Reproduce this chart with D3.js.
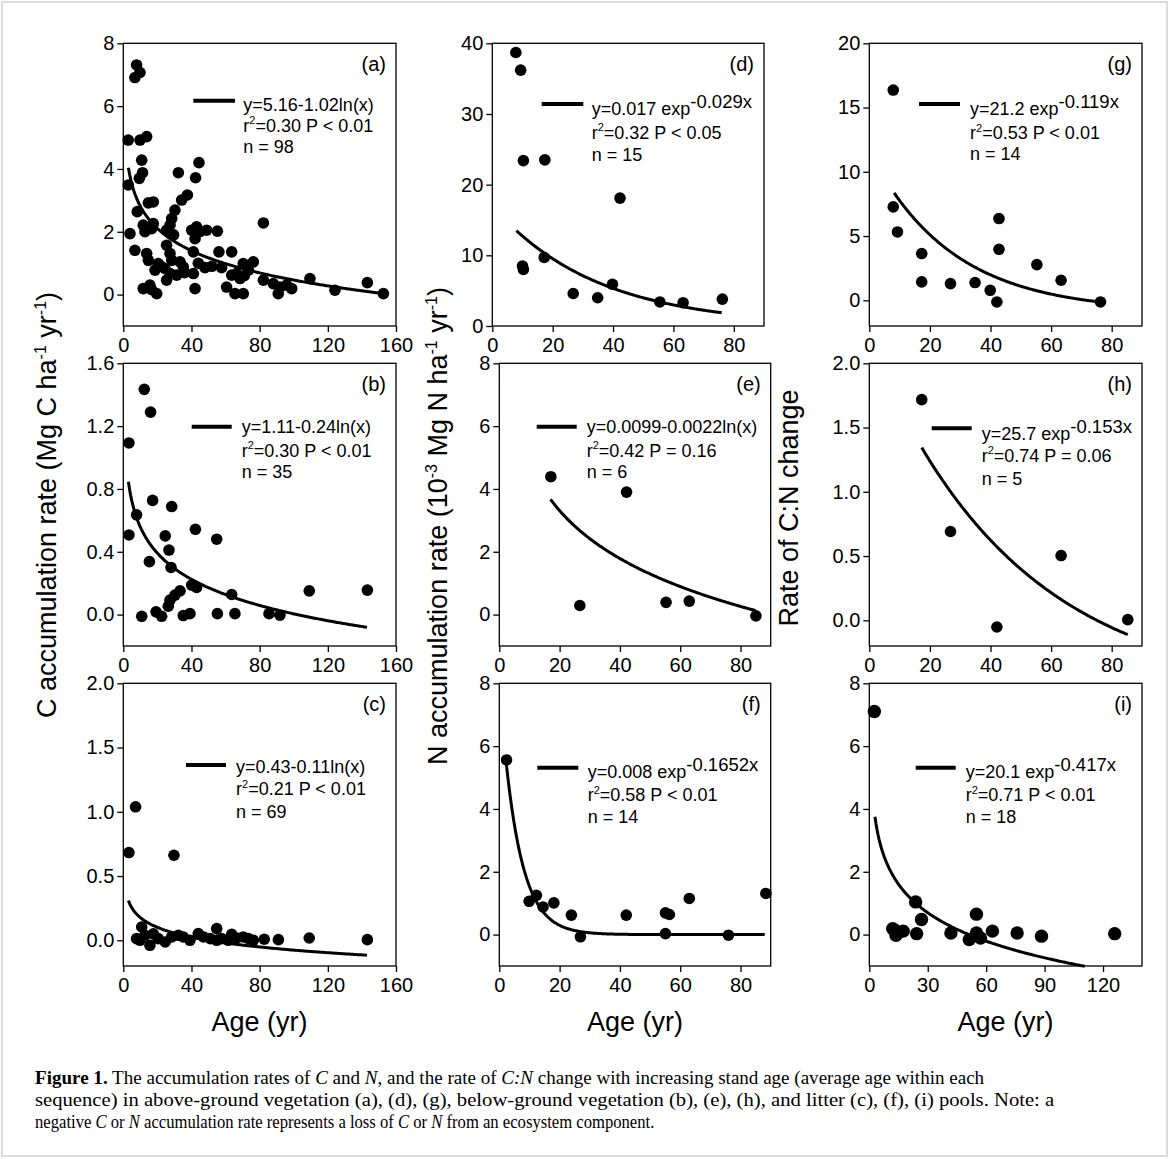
<!DOCTYPE html>
<html>
<head>
  <title>Accumulation rates vs stand age</title>
</head>
<style>
  body { margin: 0; background: #fff; }
  svg { font-family: "Liberation Sans", Arial, sans-serif; }
  .tick text { font-size: 20px; fill: #000; }
  .tick line { stroke: #000; stroke-width: 1.3; }
</style>
<body>
  <script src="https://d3js.org/d3.v7.min.js"></script>
  <script>
    // points: [age, rate]
    const ptsA = [[7.8,7.31],[9.8,7.07],[6.8,6.91],[2.9,4.92],[9.8,4.92],[13.7,5.03],[10.8,4.28],[11.3,3.88],
      [9.4,3.7],[2.9,3.49],[32.3,3.88],[44.4,4.2],[42.4,3.72],[34.2,3.01],[37.6,3.17],[14.7,2.92],[17.6,2.95],
      [8.2,2.64],[30.3,2.69],[28.4,2.42],[3.9,1.94],[11.7,2.21],[12.7,2.0],[17.6,2.26],[16.6,2.1],[25.4,2.05],
      [27.4,2.21],[40.1,2.05],[43.0,2.16],[45.0,2.0],[48.9,2.05],[55.2,2.02],[82.2,2.28],[42.1,1.78],[25.4,1.57],
      [6.8,1.41],[13.7,1.31],[14.7,1.09],[27.4,1.31],[28.4,1.09],[33.3,1.04],[41.1,1.36],[56.1,1.36],[63.6,1.36],
      [20.5,0.99],[18.6,0.78],[24.4,0.83],[35.2,0.88],[47.9,0.86],[57.7,0.86],[70.4,0.99],[76.3,1.04],[73.4,0.78],
      [27.4,0.67],[31.3,0.62],[25.4,0.46],[41.1,0.67],[63.6,0.62],[68.5,0.51],[66.5,0.67],[11.7,0.19],[15.6,0.3],
      [16.6,0.16],[19.6,0.03],[42.1,0.19],[60.6,0.24],[65.5,0.03],[70.4,0.03],[82.2,0.46],[88.0,0.35],[91.9,0.24],
      [90.9,0.03],[95.8,0.3],[98.8,0.19],[109.5,0.51],[124.2,0.14],[143.2,0.38],[152.6,0.03],[29.5,1.9],[22,0.9],
      [36,0.7],[44,1.0],[52,0.9],[71,0.6]];
    const ptsB = [[12.3,1.434],[16.0,1.289],[3.3,1.093],[17.2,0.727],[28.4,0.688],[7.8,0.635],[3.3,0.507],
      [24.6,0.501],[42.3,0.543],[54.8,0.48],[26.8,0.411],[15.3,0.337],[28.0,0.3],[40.1,0.188],[43.0,0.173],
      [33.3,0.151],[30.3,0.124],[63.6,0.128],[109.1,0.151],[143.2,0.156],[27.4,0.092],[26.4,0.053],[19.2,0.017],
      [10.8,-0.011],[22.5,-0.011],[35.2,-0.006],[39.1,0.006],[55.2,0.006],[65.5,0.006],[85.5,0.006],[91.9,-0.004]];
    const ptsC = [[7.2,1.039],[3.3,0.683],[29.7,0.662],[10.8,0.104],[54.8,0.091],[7.8,0.013],[9.8,0.0],
      [15.6,-0.039],[12.7,0.039],[17.6,0.05],[20.5,0.013],[24.6,-0.013],[28.4,0.026],[32.3,0.039],[35.2,0.026],
      [39.1,0.0],[44.0,0.052],[47.0,0.026],[51.0,0.013],[54.8,0.0],[57.7,0.013],[61.6,0.0],[63.6,0.047],
      [66.5,0.018],[70.4,0.026],[73.4,0.013],[76.3,0.0],[82.7,0.008],[91.0,0.005],[109.1,0.018],[143.2,0.005]];
    const ptsD = [[7.8,38.7],[9.4,36.2],[10.3,23.4],[17.4,23.5],[42.3,18.1],[10.0,8.5],[10.3,8.0],[17.2,9.7],
      [26.8,4.6],[34.9,4.0],[39.8,5.9],[55.5,3.4],[63.2,3.3],[76.2,3.8]];
    const ptsE = [[17.1,4.39],[42.2,3.9],[26.7,0.29],[55.3,0.39],[63.0,0.43],[85.1,-0.04]];
    const ptsF = [[2.4,5.56],[9.9,1.06],[12.3,1.25],[14.5,0.88],[18.1,1.01],[23.9,0.62],[26.9,-0.07],[42.1,0.62],
      [55.1,0.69],[56.4,0.64],[55.1,0.03],[63.0,1.15],[76.0,-0.02],[88.4,1.31]];
    const ptsG = [[7.9,16.36],[7.9,7.27],[9.3,5.32],[17.3,3.64],[17.3,1.43],[26.8,1.3],[34.9,1.38],[39.9,0.78],
      [42.1,-0.13],[42.8,6.36],[42.8,3.97],[55.3,2.78],[63.3,1.56],[76.3,-0.13]];
    const ptsH = [[17.3,1.717],[26.8,0.691],[42.1,-0.052],[63.3,0.504],[85.3,0.005]];
    const ptsI = [[2.6,7.1],[23.8,1.04],[55.0,0.65],[26.8,0.48],[12.0,0.19],[14.0,0.03],[17.4,0.11],[24.3,0.03],
      [41.9,0.05],[51.3,-0.16],[55.0,0.05],[57.1,-0.11],[63.2,0.11],[75.9,0.05],[88.4,-0.05],[126.0,0.03],
      [13.2,0.14],[13.7,-0.02]];

    // fitted trend lines: [type, p1, p2, p3, xStart, xEnd]
    const fitA = ["log", 5.16, 1.02, 0, 3, 152];
    const fitB = ["log", 1.11, 0.24, 0, 3, 143];
    const fitC = ["log", 0.43, 0.11, 0, 3, 143];
    const fitD = ["exp", 17, 0.029, 0, 8, 76];
    const fitE = ["log", 9.9, 2.2, 0, 17, 85];
    const fitF = ["exp", 8, 0.1652, 0, 2.2, 88];
    const fitG = ["exp", 12.5, 0.0367, -0.9, 8.2, 76];
    const fitH = ["exp", 2.76, 0.0205, -0.592, 17.3, 85.3];
    const fitI = ["log", 5.142, 1.307, 0, 2.9, 110.6];

    const eqText = ["y=5.16-1.02ln(x)", "y=1.11-0.24ln(x)", "y=0.43-0.11ln(x)", "y=0.017 exp", "y=0.0099-0.0022ln(x)",
      "y=0.008 exp", "y=21.2 exp", "y=25.7 exp", "y=20.1 exp"];
    const eqSup = ["", "", "", "-0.029x", "", "-0.1652x", "-0.119x", "-0.153x", "-0.417x"];
    const r2Text = ["=0.30 P < 0.01", "=0.30 P < 0.01", "=0.21 P < 0.01", "=0.32 P < 0.05", "=0.42 P = 0.16",
      "=0.58 P < 0.01", "=0.53 P < 0.01", "=0.74 P = 0.06", "=0.71 P < 0.01"];
    const nText = ["n = 98", "n = 35", "n = 69", "n = 15", "n = 6", "n = 14", "n = 14", "n = 5", "n = 18"];
    const letters = ["(a)", "(b)", "(c)", "(d)", "(e)", "(f)", "(g)", "(h)", "(i)"];

    const ticksX160 = [0, 40, 80, 120, 160];
    const ticksX80 = [0, 20, 40, 60, 80];
    const ticksX120 = [0, 30, 60, 90, 120];

    const W = 1170, H = 1159;
    const svg = d3.select("body").append("svg").attr("width", W).attr("height", H);

    svg.append("rect").attr("x", 2).attr("y", 2).attr("width", W - 5).attr("height", H - 5)
      .attr("fill", "none").attr("stroke", "#cfcfcf").attr("stroke-width", 1.5);

    const rows = [[43.3, 326], [363.3, 646], [683.3, 966]];

    // one entry per panel, layout only
    const panels = [
      {pts: ptsA, fit: fitA, x0: 123.3, x1: 396, row: 0, xd: [0,160], xt: ticksX160, yd: [-1,8], yt: [0,2,4,6,8], fmt: "d",
        leg: [70, 111.7, 57.4, 120, 67.4, 88.4, 110]},
      {pts: ptsB, fit: fitB, x0: 123.3, x1: 396, row: 1, xd: [0,160], xt: ticksX160, yd: [-0.2,1.6], yt: [0,0.4,0.8,1.2,1.6], fmt: ".1f",
        leg: [68.4, 108.4, 63.4, 118.4, 70, 93.4, 115]},
      {pts: ptsC, fit: fitC, x0: 123.3, x1: 396, row: 2, xd: [0,160], xt: ticksX160, yd: [-0.2,2.0], yt: [0,0.5,1,1.5,2], fmt: ".1f",
        leg: [62.7, 102.7, 81.7, 112.7, 89.4, 111.7, 135]},
      {pts: ptsD, fit: fitD, x0: 492.3, x1: 764, row: 0, xd: [0,90], xt: ticksX80, yd: [0,40], yt: [0,10,20,30,40], fmt: "d",
        leg: [49.4, 91, 60.7, 99.4, 71.7, 95.2, 117.2]},
      {pts: ptsE, fit: fitE, x0: 499.3, x1: 770.7, row: 1, xd: [0,90], xt: ticksX80, yd: [-1,8], yt: [0,2,4,6,8], fmt: "d",
        leg: [37.4, 77.4, 63.4, 87.4, 70, 93.4, 115]},
      {pts: ptsF, fit: fitF, x0: 499.3, x1: 770.7, row: 2, xd: [0,90], xt: ticksX80, yd: [-1,8], yt: [0,2,4,6,8], fmt: "d",
        leg: [38, 79, 84.4, 88.4, 95, 117.7, 140]},
      {pts: ptsG, fit: fitG, x0: 869.3, x1: 1142, row: 0, xd: [0,90], xt: ticksX80, yd: [-2,20], yt: [0,5,10,15,20], fmt: "d",
        leg: [49.7, 90.7, 60.7, 100.7, 71.7, 95.7, 116.7]},
      {pts: ptsH, fit: fitH, x0: 869.3, x1: 1142, row: 1, xd: [0,90], xt: ticksX80, yd: [-0.2,2.0], yt: [0,0.5,1,1.5,2], fmt: ".1f",
        leg: [62.4, 102.4, 65, 112.4, 76.7, 98.4, 121.7]},
      {pts: ptsI, fit: fitI, x0: 869.3, x1: 1142, row: 2, xd: [0,140], xt: ticksX120, yd: [-1,8], yt: [0,2,4,6,8], fmt: "d",
        leg: [46.4, 86.4, 84.4, 96.4, 95, 117.7, 140], r: 6.7}
    ];

    function fitFn(f) {
      if (f[0] === "log") return x => f[1] - f[2] * Math.log(x);
      return x => f[1] * Math.exp(-f[2] * x) + f[3];
    }

    panels.forEach((p, k) => {
      const top = rows[p.row][0], bot = rows[p.row][1];
      const x = d3.scaleLinear().domain(p.xd).range([p.x0, p.x1]);
      const y = d3.scaleLinear().domain(p.yd).range([bot, top]);
      const g = svg.append("g");

      g.append("g").attr("transform", "translate(0," + bot + ")")
        .call(d3.axisBottom(x).tickValues(p.xt).tickFormat(d3.format("d")).tickSize(6).tickSizeOuter(0).tickPadding(6))
        .call(a => a.select(".domain").remove())
        .attr("font-family", null);
      g.append("g").attr("transform", "translate(" + p.x0 + ",0)")
        .call(d3.axisLeft(y).tickValues(p.yt).tickFormat(d3.format(p.fmt)).tickSize(6).tickSizeOuter(0).tickPadding(3))
        .call(a => a.select(".domain").remove())
        .attr("font-family", null);

      g.append("rect").attr("x", p.x0).attr("y", top).attr("width", p.x1 - p.x0).attr("height", bot - top)
        .attr("fill", "none").attr("stroke", "#000").attr("stroke-width", 1.3);

      // trend line
      const fn = fitFn(p.fit);
      const xs = d3.range(0, 201).map(i => p.fit[4] + (p.fit[5] - p.fit[4]) * i / 200);
      g.append("path").datum(xs)
        .attr("d", d3.line().x(d => x(d)).y(d => y(fn(d))))
        .attr("fill", "none").attr("stroke", "#000").attr("stroke-width", 3);

      g.selectAll("circle").data(p.pts).join("circle")
        .attr("cx", d => x(d[0])).attr("cy", d => y(d[1])).attr("r", p.r || 5.8).attr("fill", "#000");

      // panel letter
      g.append("text").attr("x", p.x1 - 10).attr("y", top + 28).attr("text-anchor", "end")
        .attr("font-size", 20).text(letters[k]);

      // legend
      const L = p.leg;
      g.append("line").attr("x1", p.x0 + L[0]).attr("x2", p.x0 + L[1])
        .attr("y1", top + L[2]).attr("y2", top + L[2]).attr("stroke", "#000").attr("stroke-width", 4);
      const t1 = g.append("text").attr("x", p.x0 + L[3]).attr("y", top + L[4]).attr("font-size", 18);
      t1.append("tspan").text(eqText[k]);
      if (eqSup[k]) t1.append("tspan").attr("dy", -7).attr("font-size", 18.5).text(eqSup[k]);
      const t2 = g.append("text").attr("x", p.x0 + L[3]).attr("y", top + L[5]).attr("font-size", 18);
      t2.append("tspan").text("r");
      t2.append("tspan").attr("dy", -7.5).attr("font-size", 11).text("2");
      t2.append("tspan").attr("dy", 7.5).text(r2Text[k]);
      g.append("text").attr("x", p.x0 + L[3]).attr("y", top + L[6]).attr("font-size", 18).text(nText[k]);
    });

    // axis titles
    function yTitle(cx, cy, parts) {
      const t = svg.append("text").attr("transform", "translate(" + cx + "," + cy + ") rotate(-90)")
        .attr("text-anchor", "middle").attr("font-size", 27).attr("dy", "0.35em");
      parts.forEach(s => {
        if (s[1] === "sup") {
          t.append("tspan").attr("dy", -10).attr("font-size", 16).text(s[0]);
        } else {
          t.append("tspan").attr("dy", s[1] === "back" ? 10 : 0).text(s[0]);
        }
      });
    }
    yTitle(56, 505, [["C accumulation rate (Mg C ha"], ["-1", "sup"], [" yr", "back"], ["-1", "sup"], [")", "back"]]);
    yTitle(447, 526, [["N accumulation rate (10"], ["-3", "sup"], [" Mg N ha", "back"], ["-1", "sup"], [" yr", "back"], ["-1", "sup"], [")", "back"]]);
    yTitle(798, 508, [["Rate of C:N change"]]);

    [259.6, 635, 1005.6].forEach(cx => {
      svg.append("text").attr("x", cx).attr("y", 1031).attr("text-anchor", "middle")
        .attr("font-size", 27).text("Age (yr)");
    });

    // caption
    const capLines = [
      [["Figure 1.", "b"], [" The accumulation rates of "], ["C", "i"], [" and "], ["N", "i"], [", and the rate of "], ["C:N", "i"],
        [" change with increasing stand age (average age within each"]],
      [["sequence) in above-ground vegetation (a), (d), (g), below-ground vegetation (b), (e), (h), and litter (c), (f), (i) pools. Note: a"]],
      [["negative "], ["C", "i"], [" or "], ["N", "i"], [" accumulation rate represents a loss of "], ["C", "i"], [" or "], ["N", "i"],
        [" from an ecosystem component."]]
    ];
    const capW = [950, 1020, 620];
    capLines.forEach((line, i) => {
      const t = svg.append("text")
        .attr("font-family", "'Liberation Serif', 'DejaVu Serif', serif").attr("font-size", 18.5);
      line.forEach(s => {
        const sp = t.append("tspan").text(s[0]);
        if (s[1] === "b") sp.attr("font-weight", "bold");
        if (s[1] === "i") sp.attr("font-style", "italic");
      });
      const natural = t.node().getComputedTextLength();
      t.attr("transform", "translate(35," + (1084 + i * 22) + ") scale(" + (capW[i] / natural) + ",1)");
    });
  </script>
</body>
</html>
